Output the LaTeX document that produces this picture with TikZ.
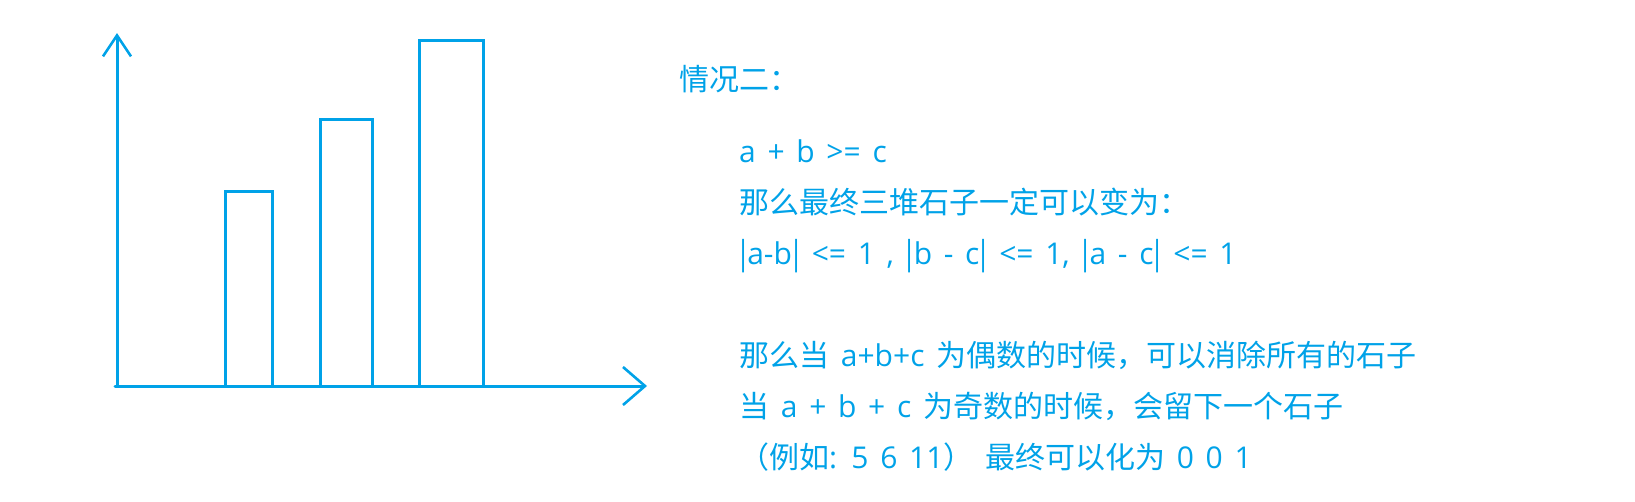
\documentclass[tikz,border=0pt]{standalone}
\usepackage{xcolor}
\usepackage{fontspec}
\usepackage{tikz}
\usetikzlibrary{arrows.meta}
\setmainfont{Open Sans}[WordSpace=1.5]
\newfontfamily\cjk{Noto Sans CJK SC}
\newcommand\vbar{{\cjk|}}
\definecolor{penblue}{RGB}{0,162,232}

\begin{document}
\begin{tikzpicture}[x=1pt,y=-1pt]
			\tikzstyle{bar} = [draw=penblue, line width=3pt]
			\tikzstyle{note} = [anchor=base west, inner sep=0pt, text=penblue, font=\fontsize{30}{36}\selectfont]
			\tikzset{axis/.style = {draw=penblue, line width=3pt, line cap=round, -{Straight Barb[length=21pt,width=28pt,line width=2.6pt]}}}
			\tikzset{xaxis/.style = {axis, -{Straight Barb[length=22pt,width=38pt,line width=2.6pt]}}}
			
			\useasboundingbox (0,0) rectangle (1635,501);
			
			\coordinate (origin) at (117,386);
			\coordinate (xstart) at (115,386);
			\coordinate (ytop) at (117,33);
			\coordinate (xend) at (647,386);
			\draw[axis](origin) to (ytop);
			\draw[xaxis](xstart) to (xend);
			
			\draw[bar] (225,386) rectangle (272,191);
			\draw[bar] (320,386) rectangle (372,119);
			\draw[bar] (419,386) rectangle (483,40);
			
			\node[note](title) at (679,90) {\cjk 情况二：};
			\node[note](cond) at (739,162) {a + b >= c};
			\node[note](then) at (739,213) {\cjk 那么最终三堆石子一定可以变为：};
			\node[note](diffs) at (739,264) {\vbar a-b\vbar{} <= 1 , \vbar b - c\vbar{} <= 1, \vbar a - c\vbar{} <= 1};
			\node[note](even) at (739,366) {{\cjk 那么当} a+b+c {\cjk 为偶数的时候，可以消除所有的石子}};
			\node[note](odd) at (739,417) {{\cjk 当} a + b + c {\cjk 为奇数的时候，会留下一个石子}};
			\node[note](example) at (739,468) {{\cjk （例如}: 5 6 11{\cjk ）} {\cjk 最终可以化为} 0 0 1};
			
\end{tikzpicture}
\end{document}
